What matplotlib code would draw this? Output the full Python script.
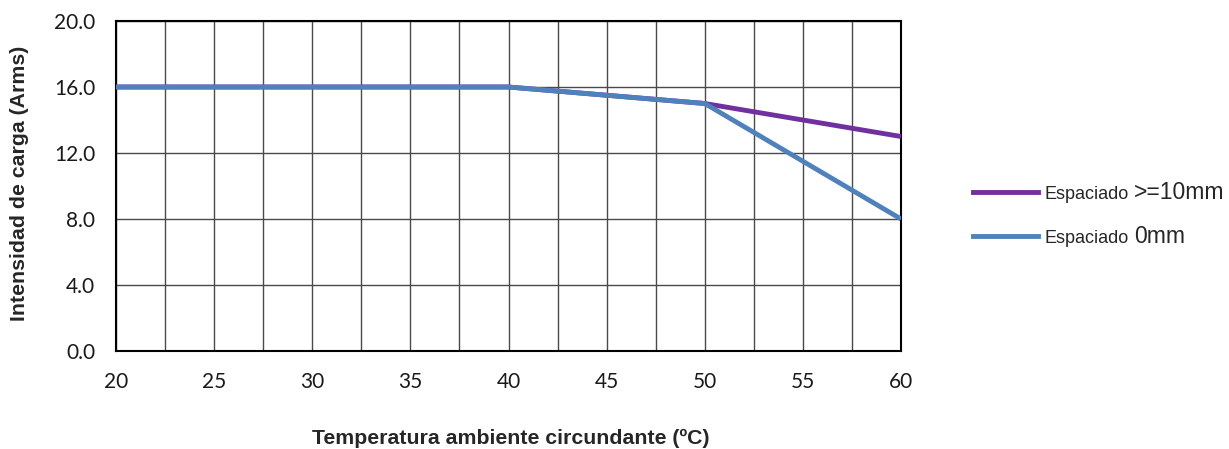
import matplotlib
matplotlib.use("Agg")
import matplotlib.pyplot as plt
from matplotlib.lines import Line2D
import numpy as np

temps = [20, 40, 50, 60]
spaced_10mm = [16, 16, 15, 13]
spaced_0mm = [16, 16, 15, 8]
series_prefix = ["Espaciado", "Espaciado"]
series_suffix = [">=10mm", "0mm"]
colors = ["#7030A0", "#4F81BD"]
xticks = [20, 25, 30, 35, 40, 45, 50, 55, 60]
yticks = [0, 4, 8, 12, 16, 20]

W, H = 1229, 449
fig = plt.figure(figsize=(W / 100, H / 100), dpi=100)
ax = fig.add_axes([116 / W, 1 - 351 / H, (901 - 116) / W, (351 - 21) / H])

ax.set_xlim(20, 60)
ax.set_ylim(0, 20)
ax.set_xticks(xticks)
ax.set_xticks(np.arange(20, 60.1, 2.5), minor=True)
ax.set_yticks(yticks)
ax.set_yticklabels([f"{v:.1f}" for v in yticks])
ax.grid(True, which="both", axis="x", color="#4a4a4a", linewidth=1.0)
ax.grid(True, which="major", axis="y", color="#4a4a4a", linewidth=1.0)
ax.tick_params(which="both", length=0, labelsize=15, colors="#1a1a1a")
ax.tick_params(axis="y", pad=15)
ax.tick_params(axis="x", pad=15)
for lab in ax.get_xticklabels() + ax.get_yticklabels():
    lab.set_family("Lato")
for s in ax.spines.values():
    s.set_color("black")
    s.set_linewidth(1.5)
ax.set_axisbelow(True)

ax.plot(temps, spaced_10mm, color=colors[0], linewidth=3.5, solid_capstyle="butt", zorder=3)
ax.plot(temps, spaced_0mm, color=colors[1], linewidth=3.5, solid_capstyle="butt", zorder=4)

fig.text(511 / W, 1 - 438 / H, "Temperatura ambiente circundante (ºC)", ha="center", va="center",
         fontsize=15.3, fontweight="bold", family="Liberation Sans", color="#262626")
fig.text(20 / W, 1 - 183 / H, "Intensidad de carga (Arms)", ha="center", va="center",
         rotation=90, fontsize=15.3, fontweight="bold", family="Liberation Sans", color="#262626")

# Legend (manual)
for i, yy in enumerate([192, 236]):
    fig.add_artist(Line2D([973 / W, 1038 / W], [1 - yy / H, 1 - yy / H], color=colors[i],
                          linewidth=3.5, transform=fig.transFigure))
    base = 1 - (yy + 7) / H
    t = fig.text(1045 / W, base, series_prefix[i], ha="left", va="baseline",
                 fontsize=13, family="Liberation Sans", color="#262626")
    fig.canvas.draw()
    bb = t.get_window_extent()
    fig.text((bb.x1 + 5) / W, base, series_suffix[i], ha="left", va="baseline",
             fontsize=16.5, family="Liberation Sans", color="#262626")

fig.savefig("out.png", dpi=100)
